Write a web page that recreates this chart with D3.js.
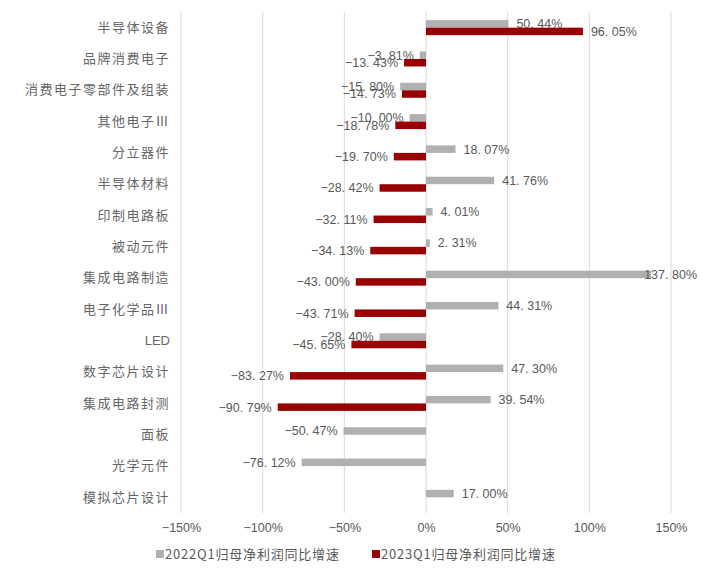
<!DOCTYPE html>
<html>
<head>
<meta charset="utf-8">
<script src="https://cdn.jsdelivr.net/npm/d3@7"></script>
<style>
  html, body { margin: 0; padding: 0; background: #fff; }
  svg { display: block; }
</style>
</head>
<body>
<svg id="chart" width="713" height="568"></svg>
<script>
// Industry categories, top to bottom
const categories = [
  "半导体设备", "品牌消费电子", "消费电子零部件及组装", "其他电子Ⅲ", "分立器件",
  "半导体材料", "印制电路板", "被动元件", "集成电路制造", "电子化学品Ⅲ",
  "LED", "数字芯片设计", "集成电路封测", "面板", "光学元件", "模拟芯片设计"
];
// YoY growth of net profit attributable to parent (%), null = not shown
const values2022Q1 = [50.44, -3.81, -15.80, -10.00, 18.07, 41.76, 4.01, 2.31, 137.80, 44.31, -28.40, 47.30, 39.54, -50.47, -76.12, 17.00];
const values2023Q1 = [96.05, -13.43, -14.73, -18.78, -19.70, -28.42, -32.11, -34.13, -43.00, -43.71, -45.65, -83.27, -90.79, null, null, null];
const seriesNames = ["2022Q1归母净利润同比增速", "2023Q1归母净利润同比增速"];
const xTicks = [-150, -100, -50, 0, 50, 100, 150];

const colors = ["#b0b0b0", "#990000"];
const textColor = "#595959";
const cjk = "'Noto Sans CJK SC', 'Noto Sans', sans-serif";
const num = "'Liberation Sans', Arial, sans-serif";
const minus = s => s.replace("-", "\u2212");

const svg = d3.select("#chart");
const plot = { left: 181, right: 671, top: 12, bottom: 513 };

const x = d3.scaleLinear().domain([-150, 150]).range([plot.left, plot.right]);
const y = d3.scaleBand().domain(categories).range([plot.top, plot.bottom]);
const sub = d3.scaleBand().domain([0, 1]).range([0, 15]);
const barOffset = (y.bandwidth() - 15) / 2;

// Vertical gridlines
svg.append("g")
  .selectAll("line")
  .data(xTicks)
  .join("line")
  .attr("x1", d => x(d)).attr("x2", d => x(d))
  .attr("y1", plot.top).attr("y2", plot.bottom)
  .attr("stroke", "#d9d9d9").attr("stroke-width", 1);

// X axis labels
const xAxis = d3.axisBottom(x).tickValues(xTicks).tickFormat(d => minus(d + "%")).tickSize(0).tickPadding(0);
const gx = svg.append("g").attr("transform", `translate(0,${plot.bottom + 15})`).call(xAxis);
gx.select(".domain").remove();
gx.selectAll("text")
  .attr("fill", textColor)
  .attr("font-family", num)
  .attr("font-size", 12.5)
  .attr("dy", "0.35em");

// Category labels
const yAxis = d3.axisLeft(y).tickSize(0).tickPadding(0);
const gy = svg.append("g").attr("transform", `translate(170,0)`).call(yAxis);
gy.select(".domain").remove();
gy.selectAll("text")
  .attr("fill", "#666")
  .attr("font-family", d => d === "LED" ? num : cjk)
  .attr("font-size", 13)
  .attr("letter-spacing", d => d === "LED" ? 0 : 1.5);

// Bars and value labels
const series = [values2022Q1, values2023Q1];
series.forEach((vals, si) => {
  const data = categories.map((c, i) => ({ c, v: vals[i] })).filter(d => d.v !== null);
  svg.append("g")
    .selectAll("rect")
    .data(data)
    .join("rect")
    .attr("x", d => x(Math.min(0, d.v)))
    .attr("width", d => Math.abs(x(d.v) - x(0)))
    .attr("y", d => y(d.c) + barOffset + sub(si))
    .attr("height", sub.bandwidth())
    .attr("fill", colors[si]);

  const labels = svg.append("g")
    .selectAll("text")
    .data(data)
    .join("text")
    .attr("y", d => y(d.c) + barOffset + sub(si) + sub.bandwidth() / 2)
    .attr("dy", "0.35em")
    .attr("fill", textColor)
    .attr("font-family", num)
    .attr("font-size", 12.5)
    .attr("text-anchor", d => d.v < 0 ? "end" : "start")
    .text(d => minus(d.v.toFixed(2).replace(".", ". ") + "%"));

  // Keep labels inside the chart area
  labels.attr("x", function (d) {
    if (d.v < 0) return x(d.v) - 6;
    const w = this.getComputedTextLength();
    return Math.min(x(d.v) + 8, 697 - w);
  });
});

// Legend
const legend = svg.append("g").attr("transform", "translate(0,554)");
const legendX = [156, 372];
seriesNames.forEach((name, i) => {
  legend.append("rect")
    .attr("x", legendX[i]).attr("y", -4)
    .attr("width", 8).attr("height", 8)
    .attr("fill", colors[i]);
  legend.append("text")
    .attr("x", legendX[i] + 9).attr("y", 0)
    .attr("dy", "0.35em")
    .attr("fill", textColor)
    .attr("font-family", cjk)
    .attr("font-size", 13)
    .attr("letter-spacing", 0.8)
    .text(name);
});
</script>
</body>
</html>
